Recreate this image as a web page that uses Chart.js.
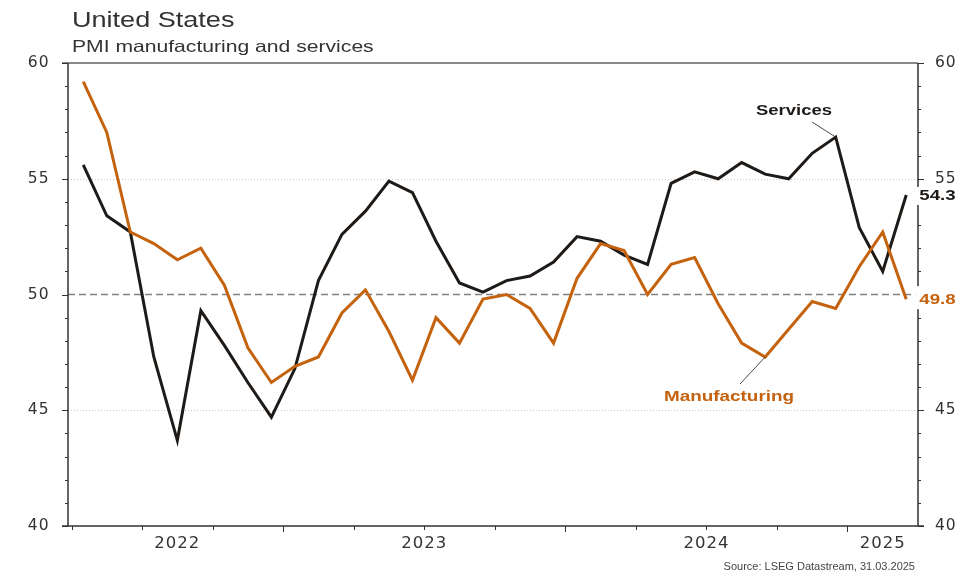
<!DOCTYPE html>
<html>
<head>
<meta charset="utf-8">
<script src="https://cdn.jsdelivr.net/npm/chart.js@4.4.1/dist/chart.umd.min.js"></script>
<style>
  body { margin: 0; background: #fff; }
  #wrap { position: relative; width: 980px; height: 581px; font-family: 'Liberation Sans', Arial, sans-serif; color: #333; }
  #wrap div { position: absolute; line-height: 1; white-space: nowrap; }
  #title { left: 72px; top: 8.5px; font-size: 22px; transform: scaleX(1.23); transform-origin: left top; }
  #subtitle { left: 72px; top: 38px; font-size: 16.5px; transform: scaleX(1.28); transform-origin: left top; }
  #source { right: 65px; top: 561.5px; font-size: 10px; color: #444; transform: scaleX(1.1); transform-origin: right top; }
  canvas { position: absolute; left: 0; top: 0; }
</style>
</head>
<body>
<div id="wrap">
  <canvas id="chart" width="980" height="581"></canvas>
  <div id="title">United States</div>
  <div id="subtitle">PMI manufacturing and services</div>
  <div id="source">Source: LSEG Datastream, 31.03.2025</div>
</div>
<script>
'use strict';

// Monthly points, Apr 2022 .. Mar 2025
const months = [
  'Apr 22', 'May 22', 'Jun 22', 'Jul 22', 'Aug 22', 'Sep 22', 'Oct 22', 'Nov 22', 'Dec 22',
  'Jan 23', 'Feb 23', 'Mar 23', 'Apr 23', 'May 23', 'Jun 23', 'Jul 23', 'Aug 23', 'Sep 23', 'Oct 23', 'Nov 23', 'Dec 23',
  'Jan 24', 'Feb 24', 'Mar 24', 'Apr 24', 'May 24', 'Jun 24', 'Jul 24', 'Aug 24', 'Sep 24', 'Oct 24', 'Nov 24', 'Dec 24',
  'Jan 25', 'Feb 25', 'Mar 25',
];
const manufacturing = [
  59.2, 57.0, 52.7, 52.2, 51.5, 52.0, 50.4, 47.7, 46.2,
  46.9, 47.3, 49.2, 50.2, 48.4, 46.3, 49.0, 47.9, 49.8, 50.0, 49.4, 47.9,
  50.7, 52.2, 51.9, 50.0, 51.3, 51.6, 49.6, 47.9, 47.3, 48.5, 49.7, 49.4,
  51.2, 52.7, 49.8,
];
const services = [
  55.6, 53.4, 52.7, 47.3, 43.7, 49.3, 47.8, 46.2, 44.7,
  46.8, 50.6, 52.6, 53.6, 54.9, 54.4, 52.3, 50.5, 50.1, 50.6, 50.8, 51.4,
  52.5, 52.3, 51.7, 51.3, 54.8, 55.3, 55.0, 55.7, 55.2, 55.0, 56.1, 56.8,
  52.9, 51.0, 54.3,
];
const yearLabels = ['2022', '2023', '2024', '2025'];
const yearCenters = [4.5, 15, 27, 34.5];     // month-index centres of each year's span
const yearStarts = [9, 21, 33];               // Jan boundaries
const quarterTicks = [0, 3, 6, 9, 12, 15, 18, 21, 24, 27, 30, 33];
const yTickLabels = [40, 45, 50, 55, 60];

const ORANGE = '#c4620e';
const BLACK = '#1e1a17';
const AXIS = '#333';
const FONT = "'Liberation Sans', Arial, sans-serif";
const TICK_FONT = "'DejaVu Sans', sans-serif";

// points sit mid-month
const toPoints = arr => arr.map((v, i) => ({ x: i + 0.5, y: v }));

// the reference type is set wide; stretch canvas labels horizontally
function wideText(ctx, txt, x, y, sx, align) {
  const w = ctx.measureText(txt).width * sx;
  const left = align === 'center' ? x - w / 2 : x;
  ctx.save();
  ctx.translate(left, y);
  ctx.scale(sx, 1);
  ctx.textAlign = 'left';
  ctx.fillText(txt, 0, 0);
  ctx.restore();
  return w;
}

// ── Axis lines, ticks, gridlines ─────────────────────────────────────────────
const frame = {
  id: 'frame',
  beforeDraw(chart) {
    chart.ctx.letterSpacing = '1px';   // tick labels
  },
  beforeDatasetsDraw(chart) {
    const { ctx, chartArea: a, scales: { y } } = chart;
    ctx.save();
    // dotted gridlines at 45 / 55
    ctx.strokeStyle = '#c8c8c8';
    ctx.lineWidth = 1;
    ctx.setLineDash([1, 2]);
    [45, 55].forEach(v => {
      const py = Math.round(y.getPixelForValue(v)) + 0.5;
      ctx.beginPath(); ctx.moveTo(a.left, py); ctx.lineTo(a.right, py); ctx.stroke();
    });
    // dashed 50 line
    ctx.strokeStyle = '#808080';
    ctx.lineWidth = 1.5;
    ctx.setLineDash([7, 4]);
    const p50 = y.getPixelForValue(50);
    ctx.beginPath(); ctx.moveTo(a.left, p50); ctx.lineTo(a.right, p50); ctx.stroke();
    ctx.restore();
  },
  afterDatasetsDraw(chart) {
    const { ctx, chartArea: a, scales: { x, y } } = chart;
    ctx.save();
    // top line at 60
    ctx.strokeStyle = '#8a8a8a';
    ctx.lineWidth = 2;
    const p60 = y.getPixelForValue(60);
    ctx.beginPath(); ctx.moveTo(a.left - 6, p60); ctx.lineTo(a.right, p60); ctx.stroke();

    ctx.strokeStyle = AXIS;
    ctx.lineWidth = 1.5;
    ctx.beginPath();
    ctx.moveTo(a.left, a.top); ctx.lineTo(a.left, a.bottom);
    ctx.moveTo(a.right, a.top); ctx.lineTo(a.right, a.bottom);
    ctx.moveTo(a.left - 6, a.bottom); ctx.lineTo(a.right + 6, a.bottom);
    ctx.stroke();

    // y ticks, every 1 point
    ctx.lineWidth = 1;
    for (let v = 40; v <= 60; v++) {
      const py = Math.round(y.getPixelForValue(v)) + 0.5;
      const len = v % 5 === 0 ? 6 : 3;
      ctx.beginPath();
      ctx.moveTo(a.left - len, py); ctx.lineTo(a.left, py);
      ctx.moveTo(a.right, py); ctx.lineTo(a.right + len, py);
      ctx.stroke();
    }
    // x ticks, quarters
    quarterTicks.forEach(v => {
      const px = Math.round(x.getPixelForValue(v)) + 0.5;
      const len = yearStarts.includes(v) ? 6 : 4;
      ctx.beginPath(); ctx.moveTo(px, a.bottom); ctx.lineTo(px, a.bottom + len); ctx.stroke();
    });
    ctx.restore();
  },
};

// ── Series labels and end values ─────────────────────────────────────────────
const labels = {
  id: 'labels',
  afterDraw(chart) {
    const { ctx, scales: { x, y } } = chart;
    ctx.save();
    ctx.letterSpacing = '0px';
    ctx.font = `bold 15px ${FONT}`;
    ctx.textBaseline = 'middle';

    // Services tag + leader to Dec 2024 peak
    ctx.fillStyle = BLACK;
    wideText(ctx, 'Services', 794, 111, 1.23, 'center');
    ctx.strokeStyle = BLACK;
    ctx.lineWidth = 0.8;
    ctx.beginPath();
    ctx.moveTo(812, 122);
    ctx.lineTo(x.getPixelForValue(32.5), y.getPixelForValue(services[32]));
    ctx.stroke();

    // Manufacturing tag + leader to Sep 2024 trough
    ctx.fillStyle = ORANGE;
    wideText(ctx, 'Manufacturing', 729, 397, 1.26, 'center');
    ctx.beginPath();
    ctx.moveTo(740, 384);
    ctx.lineTo(x.getPixelForValue(29.5), y.getPixelForValue(manufacturing[29]));
    ctx.stroke();

    // end values with white boxes over the right axis (the lower one hides the "50" tick)
    const last = months.length - 1;
    const ex = x.getPixelForValue(last + 0.5) + 13;
    [[services[last], BLACK, 9], [manufacturing[last], ORANGE, 14]].forEach(([v, col, up]) => {
      const py = y.getPixelForValue(v) + 1;
      const txt = v.toFixed(1);
      const w = ctx.measureText(txt).width * 1.25;
      ctx.fillStyle = '#fff';
      ctx.fillRect(ex - 4, py - up, w + 7, up + 9);
      ctx.fillStyle = col;
      wideText(ctx, txt, ex, py, 1.25, 'left');
    });
    ctx.restore();
    ctx.letterSpacing = '0px';
  },
};

const tickFont = { family: TICK_FONT, size: 15.5 };

new Chart(document.getElementById('chart').getContext('2d'), {
  type: 'line',
  data: {
    datasets: [
      {
        label: 'Manufacturing',
        data: toPoints(manufacturing),
        borderColor: ORANGE,
        borderWidth: 3,
        pointRadius: 0,
        tension: 0,
        xAxisID: 'x',
        yAxisID: 'y',
      },
      {
        label: 'Services',
        data: toPoints(services),
        borderColor: BLACK,
        borderWidth: 3,
        pointRadius: 0,
        tension: 0,
        xAxisID: 'x',
        yAxisID: 'y',
      },
    ],
  },
  options: {
    responsive: false,
    animation: false,
    layout: { padding: { top: 63, left: 0, right: 0, bottom: 0 } },
    plugins: { legend: { display: false }, tooltip: { enabled: false } },
    scales: {
      x: {
        type: 'linear', min: -0.15, max: 36, position: 'bottom',
        afterBuildTicks: s => { s.ticks = quarterTicks.map(v => ({ value: v })); },
        ticks: { display: false },
        grid: { display: false, drawTicks: false },
        border: { display: false },
        afterFit: s => { s.height = 8; },
      },
      year: {
        type: 'linear', min: -0.15, max: 36, position: 'bottom',
        afterBuildTicks: s => { s.ticks = yearCenters.map(v => ({ value: v })); },
        ticks: {
          callback: (v, i) => yearLabels[i],
          font: { family: TICK_FONT, size: 16.5 },
          color: AXIS, maxRotation: 0, autoSkip: false, padding: 0,
        },
        grid: { display: false, drawTicks: false },
        border: { display: false },
        afterFit: s => { s.height = 47; },
      },
      y: {
        min: 40, max: 60, position: 'left',
        afterBuildTicks: s => { s.ticks = yTickLabels.map(v => ({ value: v })); },
        ticks: { font: tickFont, color: AXIS, padding: 18.5 },
        grid: { display: false, drawTicks: false },
        border: { display: false },
        afterFit: s => { s.width = 68; },
      },
      y2: {
        min: 40, max: 60, position: 'right',
        afterBuildTicks: s => { s.ticks = yTickLabels.map(v => ({ value: v })); },
        ticks: { font: tickFont, color: AXIS, padding: 17 },
        grid: { display: false, drawTicks: false },
        border: { display: false },
        afterFit: s => { s.width = 62; },
      },
    },
  },
  plugins: [frame, labels],
});
</script>
</body>
</html>
